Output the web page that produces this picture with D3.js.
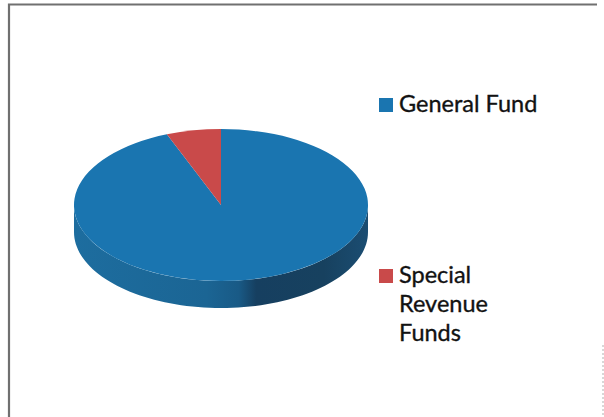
<!DOCTYPE html>
<html>
<head>
<meta charset="utf-8">
<script src="https://cdn.jsdelivr.net/npm/d3@7/dist/d3.min.js"></script>
<style>
  html, body { margin: 0; padding: 0; background: #fff; }
  svg { display: block; }
  text { font-family: Lato, "Open Sans", sans-serif; }
</style>
</head>
<body>
<svg id="chart" width="604" height="417"></svg>
<script>
// Fund shares (percent of total)
const categories = ["General Fund", "Special Revenue Funds"];
const values = [94, 6];
const legendLines = [["General Fund"], ["Special", "Revenue", "Funds"]];

const topColors = ["#1a75b0", "#c94a4a"];
const sideColors = ["#1c6a9c", "#9e3434"];

const svg = d3.select("#chart");
const W = 604, H = 417;

// frame
svg.append("path")
  .attr("d", `M9,${H} L9,4.5 L597,4.5`)
  .attr("fill", "none")
  .attr("stroke", "#707070")
  .attr("stroke-width", 2.2);
svg.append("line")
  .attr("x1", 603).attr("x2", 603).attr("y1", 345).attr("y2", H)
  .attr("stroke", "#b0b0b0").attr("stroke-width", 1)
  .attr("stroke-dasharray", "2,2");

// 3D pie geometry
const cx = 221, cy = 205, rx = 147, ry = 76, depth = 27;
const squash = ry / rx;

const pie = d3.pie().sort(null).startAngle(0).endAngle(2 * Math.PI);
const arcs = pie(values);

const arc = d3.arc().innerRadius(0).outerRadius(rx);

const defs = svg.append("defs");
const grad = defs.append("linearGradient")
  .attr("id", "sideShade")
  .attr("gradientUnits", "userSpaceOnUse")
  .attr("x1", cx - rx).attr("x2", cx + rx)
  .attr("y1", 0).attr("y2", 0);
[[0, "#1d6d9f"], [0.45, "#1b6594"], [0.56, "#195a86"], [0.62, "#163f60"], [0.85, "#17415f"], [1, "#1b4d72"]]
  .forEach(([o, c]) => grad.append("stop").attr("offset", o).attr("stop-color", c));

const g = svg.append("g");

// projected point on the top rim for a pie angle (0 = 12 o'clock, clockwise)
const rim = (a, dy = 0) => [cx + rx * Math.sin(a), cy - ry * Math.cos(a) + dy];

// outer walls: only the front half (angles between PI/2 and 3PI/2) faces the viewer
arcs.forEach((d, i) => {
  const a0 = Math.max(d.startAngle, Math.PI / 2);
  const a1 = Math.min(d.endAngle, 3 * Math.PI / 2);
  if (a1 <= a0) return;
  const n = 80;
  const pts = d3.range(n + 1).map(k => a0 + (a1 - a0) * k / n);
  const top = pts.map(a => rim(a));
  const bot = pts.slice().reverse().map(a => rim(a, depth));
  g.append("path")
    .attr("d", d3.line()(top.concat(bot)) + "Z")
    .attr("fill", i === 0 ? "url(#sideShade)" : sideColors[i]);
});

// top face
g.append("g")
  .attr("transform", `translate(${cx},${cy}) scale(1,${squash})`)
  .selectAll("path")
  .data(arcs)
  .join("path")
  .attr("d", arc)
  .attr("fill", (d, i) => topColors[i]);

// legend
const legend = svg.append("g");
const legendY = [112, 283];
categories.forEach((c, i) => {
  const row = legend.append("g");
  row.append("rect")
    .attr("x", 379).attr("y", legendY[i] - 14)
    .attr("width", 14).attr("height", 14)
    .attr("fill", topColors[i]);
  legendLines[i].forEach((t, j) => {
    row.append("text")
      .attr("x", 399).attr("y", legendY[i] + j * 29)
      .attr("font-size", 23.5)
      .attr("fill", "#121212")
      .attr("stroke", "#121212")
      .attr("stroke-width", 0.35)
      .text(t);
  });
});
</script>
</body>
</html>
